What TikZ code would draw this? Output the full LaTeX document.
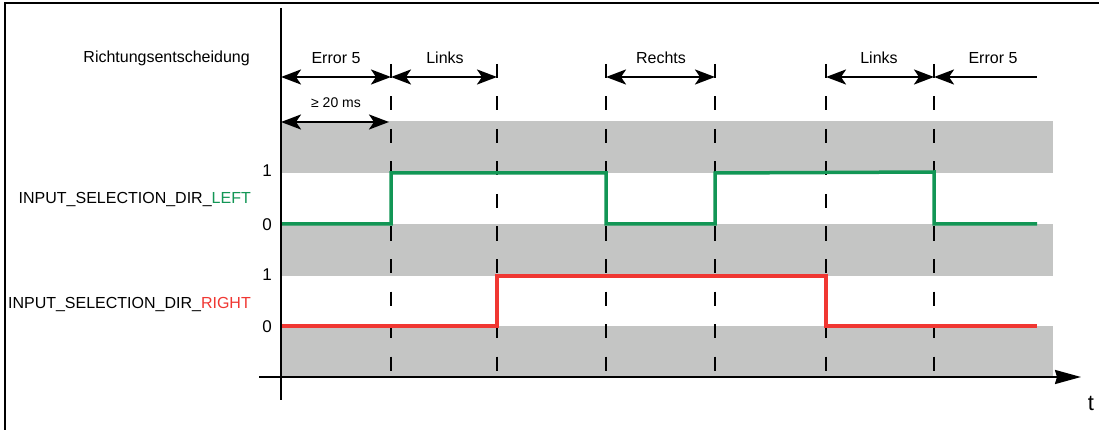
\documentclass[tikz,border=0pt]{standalone}
\usepackage{fontspec}
\setmainfont{Liberation Sans}
\usetikzlibrary{arrows.meta}
\definecolor{sigGreen}{RGB}{18,150,85}
\definecolor{sigRed}{RGB}{240,55,50}
\definecolor{bandGrey}{RGB}{196,197,196}
\begin{document}
\begin{tikzpicture}[x=1pt,y=-1pt,
  lbl/.style={inner sep=0pt,font=\fontsize{16}{18}\selectfont},
  lvl/.style={inner sep=0pt,font=\fontsize{17}{19}\selectfont,anchor=east},
  axisline/.style={line width=2pt,black},
  guide/.style={line width=2pt,black,dash pattern=on 14pt off 18.5pt},
  band/.style={fill=bandGrey,draw=none},
  span/.style={line width=2.5pt,{Stealth[length=20pt,width=15pt,inset=5pt]}-{Stealth[length=20pt,width=15pt,inset=5pt]}},
  spanL/.style={line width=2.5pt,{Stealth[length=20pt,width=15pt,inset=5pt]}-},
  greensig/.style={line width=3.5pt,sigGreen,line join=miter},
  redsig/.style={line width=3.5pt,sigRed,line join=miter}]
\useasboundingbox (0,0) rectangle (1099,430);
\fill[white] (0,0) rectangle (1099,430);
% frame
\draw[line width=1.5pt] (5,440) -- (5,3) -- (1110,3);
% bands
\fill[band] (281,121) rectangle (1053,173);
\fill[band] (281,224) rectangle (1053,276);
\fill[band] (281,326) rectangle (1053,377);
% time marks
\foreach \n/\x in {a/391,b/497,c/606,d/715,e/826,f/934}{
  \coordinate (top\n) at (\x,64);
  \coordinate (bot\n) at (\x,377);
  \coordinate (arr\n) at (\x,77);
  \draw[guide] (top\n) -- (bot\n);
}
\coordinate (o) at (281,77);
\coordinate (oend) at (1037,77);
\coordinate (ms0) at (281,122);
\coordinate (ms1) at (389,122);
% spans
\draw[span] (o) -- (arra);
\draw[span] (arra) -- (arrb);
\draw[span] (arrc) -- (arrd);
\draw[span] (arre) -- (arrf);
\draw[spanL] (arrf) -- (oend);
\draw[span] (ms0) -- (ms1);
\node[lbl] (t1) at (336,58) {Error 5};
\node[lbl] (t2) at (445,58) {Links};
\node[lbl] (t3) at (661,58) {Rechts};
\node[lbl] (t4) at (879,58) {Links};
\node[lbl] (t5) at (993,58) {Error 5};
\node[inner sep=0pt,font=\fontsize{14}{16}\selectfont] (ms) at (336,103) {≥ 20 ms};
% signals
\draw[greensig] (281,224) -- (391,224) -- (391,173) -- (606,173) -- (606,224) -- (715,224) -- (715,173) -- (934,172) -- (934,224) -- (1037,224);
\draw[redsig] (281,326) -- (497,326) -- (497,276) -- (826,276) -- (826,326) -- (1037,326);
% axes
\coordinate (yt) at (281,8);
\coordinate (yb) at (281,400);
\coordinate (xl) at (259,377);
\coordinate (xr) at (1081,377);
\draw[axisline] (yt) -- (yb);
\draw[axisline,-{Stealth[length=26pt,width=14pt,inset=2pt]}] (xl) -- (xr);
\node[inner sep=0pt,font=\fontsize{22}{24}\selectfont] (tl) at (1091,403) {t};
% labels
\node[lbl,anchor=east] (rich) at (250,58) {Richtungsentscheidung};
\node[lbl,anchor=east] (left) at (251,200) {INPUT\_SELECTION\_DIR\_\textcolor{sigGreen}{LEFT}};
\node[lbl,anchor=east] (right) at (251,305) {INPUT\_SELECTION\_DIR\_\textcolor{sigRed}{RIGHT}};
\node[lvl] (g1) at (272,171) {1};
\node[lvl] (g0) at (272,225) {0};
\node[lvl] (r1) at (272,275) {1};
\node[lvl] (r0) at (272,327) {0};
\end{tikzpicture}
\end{document}
